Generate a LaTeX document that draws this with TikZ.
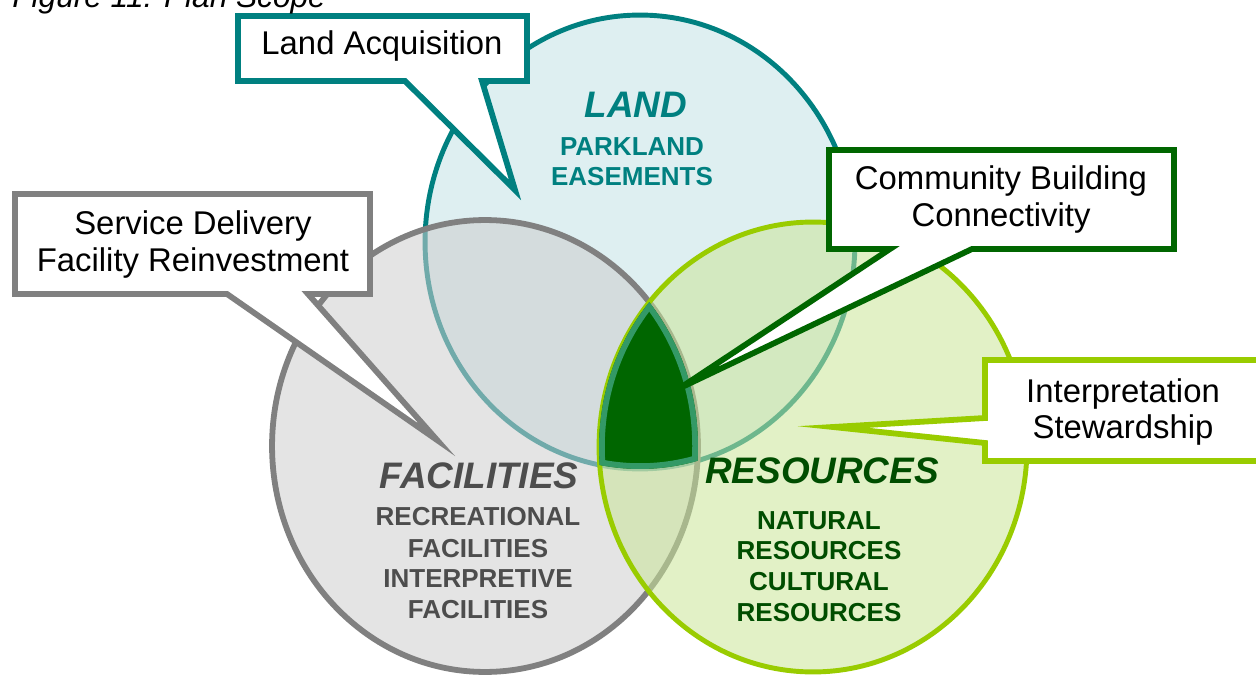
\documentclass[tikz,border=0pt]{standalone}
\usepackage{fontspec}
\setmainfont{Liberation Sans}
\definecolor{landline}{RGB}{0,128,128}
\definecolor{landfill}{RGB}{222,239,241}
\definecolor{facline}{RGB}{128,128,128}
\definecolor{facfill}{RGB}{205,205,205}
\definecolor{resline}{RGB}{153,204,0}
\definecolor{resfill}{RGB}{202,229,152}
\definecolor{coreline}{RGB}{51,153,102}
\definecolor{corefill}{RGB}{0,102,0}
\definecolor{commline}{RGB}{0,102,0}
\definecolor{factext}{RGB}{77,77,77}
\definecolor{restext}{RGB}{0,77,0}
\begin{document}
\begin{tikzpicture}[x=0.02cm, y=-0.02cm,
  callout/.style={fill=white, line width=3.3pt, line join=miter, miter limit=20},
  calltext/.style={font=\fontsize{18.7pt}{21pt}\selectfont, inner sep=0pt, anchor=base, text=black},
  headtext/.style={font=\fontsize{21pt}{24pt}\selectfont\bfseries\itshape, inner sep=0pt, anchor=base},
  subtext/.style={font=\fontsize{14.8pt}{17pt}\selectfont\bfseries, inner sep=0pt, anchor=base},
  landshape/.style={insert path={(landc) ellipse [x radius=4.30cm, y radius=4.54cm]}},
  facshape/.style={insert path={(facc) ellipse [x radius=4.26cm, y radius=4.52cm]}},
  resshape/.style={insert path={(resc) ellipse [x radius=4.28cm, y radius=4.50cm]}}]

\useasboundingbox (0,0) rectangle (1256,675);

\coordinate (landc) at (640,242);
\coordinate (facc) at (485,446);
\coordinate (resc) at (813,447);

% the three circles, each laid over the previous one
\fill[landfill, landshape];
\draw[landline, line width=2.8pt, landshape];
\fill[facfill, fill opacity=0.55, facshape];
\draw[facline, line width=3.3pt, facshape];
\fill[resfill, fill opacity=0.55, resshape];
\draw[resline, line width=2.8pt, resshape];

% the common core of all three
\begin{scope}
  \clip[landshape];
  \clip[facshape];
  \clip[resshape];
  \fill[corefill] (550,280) rectangle (720,480);
  \draw[coreline, line width=6.5pt, landshape];
  \draw[coreline, line width=6.5pt, facshape];
  \draw[coreline, line width=6.5pt, resshape];
\end{scope}

% circle labels
\node[headtext, text=landline] (landhead) at (636,118) {LAND};
\node[subtext, text=landline] (landsub1) at (632,156) {PARKLAND};
\node[subtext, text=landline] (landsub2) at (632,186) {EASEMENTS};

\node[headtext, text=factext] (fachead) at (479,488) {FACILITIES};
\node[subtext, text=factext] (facsub1) at (478,525) {RECREATIONAL};
\node[subtext, text=factext] (facsub2) at (478,557) {FACILITIES};
\node[subtext, text=factext] (facsub3) at (478,587) {INTERPRETIVE};
\node[subtext, text=factext] (facsub4) at (478,618) {FACILITIES};

\node[headtext, text=restext] (reshead) at (822,483) {RESOURCES};
\node[subtext, text=restext] (ressub1) at (819,529) {NATURAL};
\node[subtext, text=restext] (ressub2) at (819,559) {RESOURCES};
\node[subtext, text=restext] (ressub3) at (819,590) {CULTURAL};
\node[subtext, text=restext] (ressub4) at (819,621) {RESOURCES};

% callouts
\coordinate (landtip) at (515,190);
\draw[callout, draw=landline] (238,16) -- (527,16) -- (527,81) -- (482,81)
  -- (landtip) -- (405,81) -- (238,81) -- cycle;
\node[calltext] (landacq) at (382,55) {Land Acquisition};

\coordinate (factip) at (437,440);
\draw[callout, draw=facline] (15,194) -- (370,194) -- (370,294) -- (308,294)
  -- (factip) -- (227,294) -- (15,294) -- cycle;
\node[calltext] (service) at (193,235) {Service Delivery};
\node[calltext] (reinvest) at (193,272) {Facility Reinvestment};

\coordinate (coretip) at (680,388);
\draw[callout, draw=commline] (829,150) -- (1174,150) -- (1174,249) -- (972,249)
  -- (coretip) -- (890,249) -- (829,249) -- cycle;
\node[calltext] (community) at (1001,190) {Community Building};
\node[calltext] (connect) at (1001,227) {Connectivity};

\coordinate (restip) at (833,427);
\draw[callout, draw=resline] (985,360) -- (1262,360) -- (1262,461) -- (985,461)
  -- (985,443) -- (restip) -- (985,418) -- cycle;
\node[calltext] (interp) at (1123,402) {Interpretation};
\node[calltext] (steward) at (1123,438) {Stewardship};

% caption, running off the top edge
\node[font=\fontsize{18pt}{20pt}\selectfont\itshape, inner sep=0pt, anchor=base west] (caption) at (12,8) {Figure 11: Plan Scope};
\end{tikzpicture}
\end{document}
